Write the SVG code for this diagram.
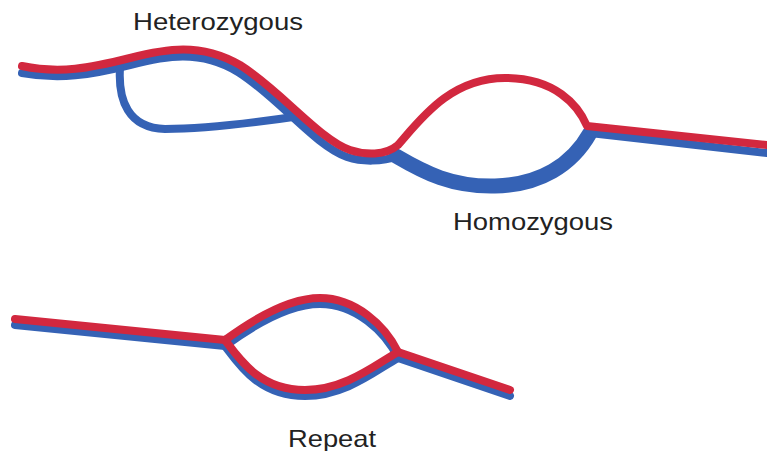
<svg xmlns="http://www.w3.org/2000/svg" width="767" height="451" viewBox="0 0 767 451">
  <style>
    .lbl { font-family: "Liberation Sans", Arial, sans-serif; font-size: 24px; fill: #222; }
    .red { fill: none; stroke: #d2283f; stroke-width: 8; stroke-linecap: round; stroke-linejoin: round; }
    .blue { fill: none; stroke: #3562b5; stroke-width: 8; stroke-linecap: round; stroke-linejoin: round; }
  </style>
  <rect width="767" height="451" fill="#ffffff"/>

  <g id="strands">
    <!-- top pair: heterozygous bubble and homozygous bubble -->
    <g id="top-pair">
      <path class="blue" d="M22,73 C60,80 90,75 130,65 C165,56 200,49 238,72 C278,97 315,146 347,157 C362,162 382,162 398,156"/>
      <path class="blue" d="M120,68 C118,100 128,128 165,129 C210,129 260,122 300,116"/>
      <path class="blue" style="stroke-width:15" d="M396,156 C425,173 452,187 495,186 C540,185 572,165 590,133"/>
      <path class="blue" d="M590,133 L767,153"/>
      <path class="red" d="M22,66 C60,74 90,68 130,58 C165,49 200,42 240,65 C280,90 320,140 350,150 C365,155 385,156 398,145 C420,120 450,78 505,78 C555,78 578,105 587,126 L767,145"/>
    </g>
    <!-- bottom pair: repeat bubble -->
    <g id="bottom-pair">
      <g transform="translate(0,6)">
        <path class="blue" d="M15,319 L225,340 C255,318 290,298 320,298 C355,298 385,325 398,352 L510,390"/>
        <path class="blue" d="M225,340 C240,360 260,390 305,390 C345,390 375,365 398,352"/>
      </g>
      <path class="red" d="M15,319 L225,340 C255,318 290,298 320,298 C355,298 385,325 398,352 L510,390"/>
      <path class="red" d="M225,340 C240,360 260,390 305,390 C345,390 375,365 398,352"/>
    </g>
  </g>

  <g id="labels">
    <text id="heterozygous" class="lbl" x="133" y="30" textLength="170" lengthAdjust="spacingAndGlyphs">Heterozygous</text>
    <text id="homozygous" class="lbl" x="453" y="230" textLength="160" lengthAdjust="spacingAndGlyphs">Homozygous</text>
    <text id="repeat" class="lbl" x="288" y="447" textLength="88" lengthAdjust="spacingAndGlyphs">Repeat</text>
  </g>
</svg>
